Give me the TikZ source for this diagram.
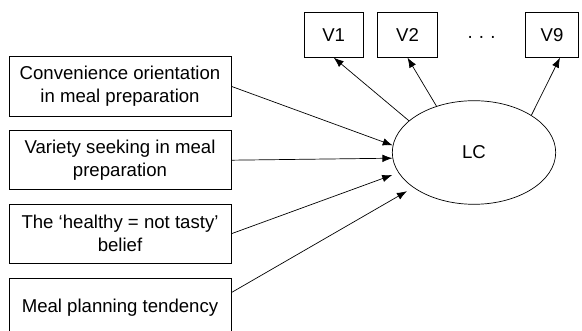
\documentclass[tikz,border=0pt]{standalone}
\usepackage{fontspec}
\setmainfont{Liberation Sans}
\usetikzlibrary{arrows.meta, shapes.geometric}
\tikzset{
  factor/.style={draw, line width=0.7pt, minimum width=221.7pt, minimum height=59.3pt, align=center, inner sep=0pt},
  item/.style={draw, line width=0.7pt, minimum height=45pt, inner sep=0pt},
  arr/.style={line width=0.7pt, -{Latex[length=10pt,width=7.5pt]}},
}
\begin{document}
\begin{tikzpicture}[x=1pt, y=1pt, font=\fontsize{18.6}{23}\selectfont]
        \path[use as bounding box, clip] (0,0) rectangle (582,331);
        % predictors
        \node[factor] (conv) at (120,244.7) {Convenience orientation\\in meal preparation};
        \node[factor] (vari) at (120,170.8) {Variety seeking in meal\\preparation};
        \node[factor] (heal) at (120,97.2) {The ‘healthy = not tasty’\\belief};
        \node[factor] (plan) at (120,23.3) {Meal planning tendency};
        % latent class and indicators
        \node[draw, ellipse, line width=0.7pt, minimum width=163.4pt, minimum height=103.6pt, inner sep=0pt] (lc) at (474,178.5) {LC};
        \node[item, minimum width=59.3pt] (v1) at (333.7,296.2) {V1};
        \node[item, minimum width=59.6pt] (v2) at (407.5,296.2) {V2};
        \node[item, minimum width=53.4pt] (v9) at (552,296.2) {V9};
        \node (dots) at (481.5,292) {· · ·};

        \draw[arr] (conv.east) -- (lc.175.3);
        \draw[arr] (vari.east) -- (lc.184.8);
        \draw[arr, shorten >=6.6pt] (heal.east) -- (lc.195.5);
        \draw[arr, shorten >=7.3pt] ([yshift=15pt]plan.east) -- (lc.210);
        \draw[arr] (lc.154.5) -- (v1.south);
        \draw[arr] (lc.129.2) -- (v2.south);
        \draw[arr] (lc.33.3) -- ([xshift=8pt]v9.south);

    \end{tikzpicture}
\end{document}
